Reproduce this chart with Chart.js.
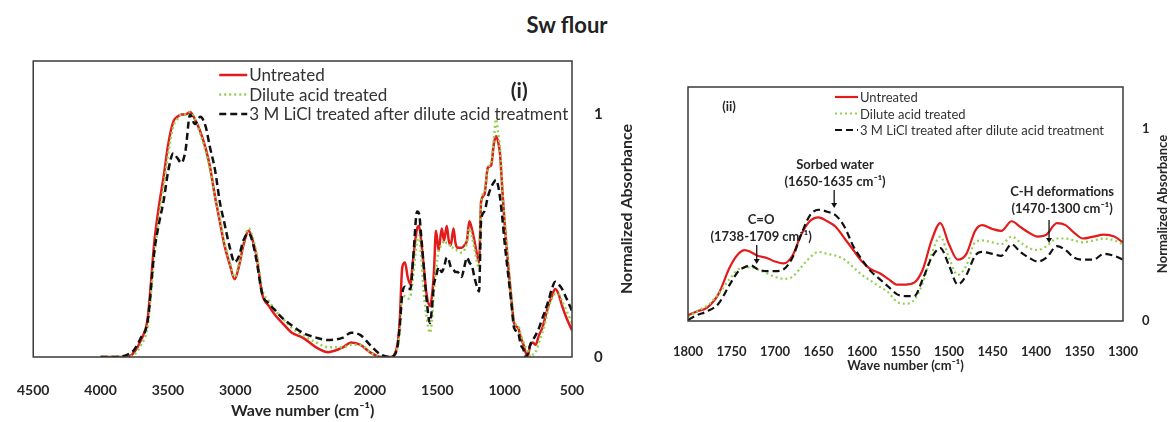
<!DOCTYPE html>
<html>
<head>
<meta charset="utf-8">
<script src="https://cdn.jsdelivr.net/npm/chart.js@4.4.1/dist/chart.umd.min.js"></script>
<style>
    html, body { margin: 0; padding: 0; background: #fff; }
    body { width: 1174px; height: 422px; position: relative; overflow: hidden; font-family: Lato, "DejaVu Sans", sans-serif; }
    #title { position: absolute; left: 0; top: 11px; width: 1134px; text-align: center; font-weight: bold; font-size: 22px; color: #222; }
    #chartI { position: absolute; left: 0; top: 0; }
    #chartII { position: absolute; left: 650px; top: 0; }
</style>
</head>
<body>
<div id="title">Sw flour</div>
<canvas id="chartI" width="650" height="422"></canvas>
<canvas id="chartII" width="524" height="422"></canvas>
<script>
"use strict";

const seriesNames = ['Untreated', 'Dilute acid treated', '3 M LiCl treated after dilute acid treatment'];
const yTickValues = [0, 1];

// panel (i): whole spectrum, wave numbers in cm-1
const waveI = [
    4000, 3900, 3800, 3750, 3700, 3650, 3600, 3570, 3530, 3500,
    3460, 3430, 3400, 3370, 3335, 3300, 3260, 3220, 3190, 3150,
    3115, 3080, 3040, 3005, 2970, 2940, 2900, 2870, 2840, 2800,
    2750, 2700, 2650, 2580, 2500, 2400, 2310, 2200, 2140, 2070,
    2000, 1920, 1850, 1800, 1780, 1760, 1740, 1720, 1700, 1680,
    1650, 1635, 1620, 1600, 1580, 1555, 1540, 1525, 1510, 1490,
    1467, 1450, 1430, 1415, 1400, 1380, 1365, 1350, 1320, 1300,
    1280, 1262, 1240, 1225, 1200, 1190, 1175, 1150, 1125, 1100,
    1080, 1064, 1050, 1035, 1015, 1000, 976, 950, 930, 900,
    880, 860, 845, 830, 810, 790, 770, 745, 720, 700,
    676, 650, 625, 600, 573, 540, 500
];
const untreatedI = [
    0.00, 0.00, 0.00, 0.02, 0.07, 0.16, 0.48, 0.61, 0.75, 0.87,
    0.97, 0.99, 1.00, 1.00, 1.01, 0.98, 0.93, 0.86, 0.79, 0.66,
    0.56, 0.46, 0.38, 0.32, 0.38, 0.46, 0.52, 0.48, 0.41, 0.26,
    0.21, 0.17, 0.14, 0.10, 0.08, 0.04, 0.02, 0.04, 0.06, 0.05,
    0.02, 0.00, 0.00, 0.04, 0.14, 0.37, 0.39, 0.33, 0.30, 0.40,
    0.53, 0.54, 0.48, 0.37, 0.26, 0.21, 0.25, 0.35, 0.52, 0.44,
    0.53, 0.48, 0.54, 0.48, 0.46, 0.53, 0.47, 0.45, 0.45, 0.46,
    0.48, 0.56, 0.52, 0.48, 0.41, 0.39, 0.64, 0.67, 0.78, 0.79,
    0.88, 0.91, 0.89, 0.84, 0.67, 0.55, 0.39, 0.24, 0.14, 0.12,
    0.08, 0.05, 0.02, 0.00, 0.05, 0.06, 0.05, 0.09, 0.12, 0.16,
    0.21, 0.25, 0.28, 0.26, 0.21, 0.16, 0.11
];
const diluteI = [
    0.00, 0.00, 0.00, 0.01, 0.05, 0.13, 0.42, 0.56, 0.71, 0.83,
    0.95, 0.98, 1.00, 1.00, 1.01, 0.98, 0.92, 0.85, 0.78, 0.66,
    0.57, 0.47, 0.39, 0.33, 0.39, 0.47, 0.53, 0.49, 0.42, 0.28,
    0.23, 0.19, 0.16, 0.12, 0.09, 0.06, 0.04, 0.04, 0.05, 0.05,
    0.02, 0.00, 0.00, 0.03, 0.10, 0.25, 0.25, 0.24, 0.25, 0.33,
    0.48, 0.50, 0.42, 0.26, 0.17, 0.10, 0.15, 0.28, 0.36, 0.44,
    0.46, 0.48, 0.47, 0.47, 0.45, 0.45, 0.44, 0.44, 0.43, 0.44,
    0.47, 0.53, 0.49, 0.45, 0.38, 0.37, 0.64, 0.68, 0.78, 0.80,
    0.90, 0.98, 0.93, 0.86, 0.68, 0.56, 0.40, 0.25, 0.14, 0.13,
    0.09, 0.06, 0.04, 0.03, 0.00, 0.01, 0.02, 0.06, 0.10, 0.14,
    0.20, 0.24, 0.26, 0.26, 0.23, 0.19, 0.14
];
const liclI = [
    0.00, 0.00, 0.01, 0.03, 0.08, 0.15, 0.44, 0.54, 0.65, 0.76,
    0.84, 0.82, 0.80, 0.85, 1.00, 0.96, 0.99, 0.95, 0.87, 0.77,
    0.64, 0.55, 0.45, 0.39, 0.42, 0.48, 0.51, 0.47, 0.39, 0.26,
    0.22, 0.19, 0.16, 0.13, 0.10, 0.08, 0.07, 0.08, 0.10, 0.09,
    0.05, 0.01, 0.00, 0.03, 0.12, 0.26, 0.29, 0.28, 0.28, 0.40,
    0.60, 0.59, 0.50, 0.37, 0.24, 0.14, 0.20, 0.30, 0.33, 0.37,
    0.35, 0.37, 0.41, 0.40, 0.37, 0.36, 0.35, 0.35, 0.33, 0.37,
    0.41, 0.39, 0.37, 0.33, 0.28, 0.27, 0.56, 0.60, 0.66, 0.70,
    0.72, 0.73, 0.71, 0.66, 0.56, 0.47, 0.35, 0.22, 0.12, 0.10,
    0.05, 0.03, 0.00, 0.01, 0.05, 0.07, 0.09, 0.12, 0.16, 0.19,
    0.23, 0.28, 0.31, 0.30, 0.28, 0.24, 0.19
];

// panel (ii): zoom on 1800-1300 cm-1
const waveII = [
    1800, 1790, 1778, 1765, 1752, 1742, 1735, 1728, 1720, 1710,
    1700, 1690, 1680, 1670, 1660, 1650, 1640, 1630, 1620, 1610,
    1600, 1590, 1580, 1570, 1560, 1550, 1540, 1530, 1520, 1510,
    1500, 1490, 1480, 1470, 1462, 1450, 1440, 1428, 1418, 1408,
    1398, 1388, 1376, 1366, 1356, 1346, 1334, 1322, 1310, 1300
];
const untreatedII = [
    0.03, 0.05, 0.07, 0.14, 0.28, 0.35, 0.37, 0.36, 0.34, 0.33,
    0.31, 0.30, 0.34, 0.45, 0.52, 0.54, 0.52, 0.49, 0.43, 0.37,
    0.31, 0.27, 0.25, 0.22, 0.19, 0.19, 0.20, 0.27, 0.42, 0.51,
    0.40, 0.32, 0.35, 0.47, 0.50, 0.48, 0.47, 0.52, 0.49, 0.46,
    0.44, 0.45, 0.51, 0.50, 0.46, 0.43, 0.44, 0.45, 0.44, 0.41
];
const diluteII = [
    0.02, 0.05, 0.08, 0.14, 0.22, 0.27, 0.28, 0.28, 0.27, 0.25,
    0.23, 0.22, 0.23, 0.28, 0.33, 0.36, 0.35, 0.34, 0.32, 0.28,
    0.24, 0.21, 0.18, 0.15, 0.10, 0.09, 0.11, 0.20, 0.35, 0.44,
    0.33, 0.24, 0.29, 0.41, 0.42, 0.41, 0.40, 0.44, 0.41, 0.38,
    0.37, 0.39, 0.43, 0.43, 0.42, 0.41, 0.42, 0.43, 0.42, 0.40
];
const liclII = [
    0.005, 0.03, 0.05, 0.09, 0.19, 0.26, 0.28, 0.29, 0.27, 0.26,
    0.26, 0.27, 0.33, 0.45, 0.55, 0.58, 0.57, 0.55, 0.49, 0.39,
    0.32, 0.26, 0.22, 0.18, 0.14, 0.13, 0.13, 0.22, 0.33, 0.38,
    0.29, 0.19, 0.24, 0.34, 0.36, 0.35, 0.34, 0.40, 0.36, 0.33,
    0.31, 0.33, 0.39, 0.37, 0.33, 0.32, 0.32, 0.35, 0.34, 0.32
];

const FONT = 'Lato, "DejaVu Sans", sans-serif';
const TEXT = '#262626';

function toPoints(xs, ys) {
    return xs.map((x, i) => ({x: x, y: ys[i]}));
}

function makeDatasets(xs, series, width) {
    const styles = [
        {color: '#e31b1b', dash: [], order: 3},
        {color: '#92d050', dash: [2, 3], order: 2},
        {color: '#111111', dash: [7, 4], order: 1}
    ];
    return series.map((ys, i) => ({
        label: seriesNames[i],
        data: toPoints(xs, ys),
        borderColor: styles[i].color,
        borderDash: styles[i].dash,
        borderWidth: width,
        order: styles[i].order,
        pointRadius: 0,
        fill: false,
        cubicInterpolationMode: 'monotone'
    }));
}

// frame, rotated y title, legend, panel tag and arrows
const panelDecor = {
    id: 'panelDecor',
    afterDatasetsDraw(chart, args, opts) {
        const ctx = chart.ctx;
        const area = chart.chartArea;
        const xs = chart.scales.x, ys = chart.scales.y;

        ctx.save();
        ctx.strokeStyle = '#3a3a3a';
        ctx.lineWidth = opts.frameWidth;
        ctx.strokeRect(area.left, area.top, area.width, area.height);

        ctx.save();
        ctx.fillStyle = TEXT;
        ctx.font = opts.yTitleFont;
        ctx.textAlign = 'center';
        ctx.textBaseline = 'middle';
        ctx.translate(opts.yTitleX, (area.top + area.bottom) / 2);
        ctx.rotate(-Math.PI / 2);
        ctx.fillText(opts.yTitle, 0, 0);
        ctx.restore();

        const lg = opts.legend;
        ctx.font = lg.font;
        ctx.textAlign = 'left';
        ctx.textBaseline = 'middle';
        chart.data.datasets.forEach((ds, i) => {
            const x = area.left + lg.left;
            const y = area.top + lg.top + i * lg.gap;
            ctx.save();
            ctx.strokeStyle = ds.borderColor;
            ctx.lineWidth = ds.borderWidth;
            ctx.setLineDash(ds.borderDash);
            ctx.beginPath();
            ctx.moveTo(x, y);
            ctx.lineTo(x + lg.sample, y);
            ctx.stroke();
            ctx.restore();
            ctx.fillStyle = '#333';
            ctx.fillText(ds.label, x + lg.sample + 2, y + 1);
        });

        ctx.font = opts.tagFont;
        ctx.textAlign = 'center';
        ctx.fillStyle = TEXT;
        ctx.fillText(opts.tag, area.left + opts.tagX, area.top + opts.tagY);

        (opts.notes || []).forEach(n => {
            const tx = xs.getPixelForValue(n.textX);
            const ty = ys.getPixelForValue(n.textY);
            ctx.font = opts.noteFont;
            ctx.fillStyle = TEXT;
            n.lines.forEach((t, k) => ctx.fillText(t, tx, ty + k * opts.noteGap));
            const ax = xs.getPixelForValue(n.arrowX);
            const y0 = ys.getPixelForValue(n.from);
            const y1 = ys.getPixelForValue(n.to);
            ctx.strokeStyle = '#111';
            ctx.fillStyle = '#111';
            ctx.lineWidth = 1.3;
            ctx.beginPath();
            ctx.moveTo(ax, y0);
            ctx.lineTo(ax, y1 - 4);
            ctx.stroke();
            ctx.beginPath();
            ctx.moveTo(ax - 3, y1 - 5);
            ctx.lineTo(ax + 3, y1 - 5);
            ctx.lineTo(ax, y1);
            ctx.closePath();
            ctx.fill();
        });
        ctx.restore();
    }
};

function makeOptions(p) {
    return {
        responsive: false,
        animation: false,
        layout: {padding: {left: p.padLeft, top: p.padTop, right: 0, bottom: 0}},
        plugins: {
            legend: {display: false},
            tooltip: {enabled: false},
            panelDecor: p.decor
        },
        scales: {
            x: {
                type: 'linear',
                reverse: true,
                min: p.xMin,
                max: p.xMax,
                grid: {display: false},
                border: {display: false},
                afterFit: (s) => { s.height = p.xHeight; },
                ticks: {
                    stepSize: p.xStep,
                    autoSkip: false,
                    maxRotation: 0,
                    padding: p.xTickPad,
                    color: TEXT,
                    font: {family: FONT, size: p.xTickSize, weight: 'bold'},
                    callback: (v) => String(v)
                },
                title: {
                    display: true,
                    text: 'Wave number (cm⁻¹)',
                    color: TEXT,
                    font: {family: FONT, size: p.xTitleSize, weight: 'bold'},
                    padding: {top: 0, bottom: p.xTitlePad}
                }
            },
            y: {
                position: 'right',
                min: 0,
                max: 1.22,
                grid: {display: false},
                border: {display: false},
                afterFit: (s) => { s.width = p.yWidth; },
                afterBuildTicks: (s) => { s.ticks = yTickValues.map(v => ({value: v})); },
                ticks: {
                    padding: p.yTickPad,
                    color: TEXT,
                    font: {family: FONT, size: p.yTickSize, weight: 'bold'},
                    callback: (v) => String(v)
                }
            }
        }
    };
}

new Chart(document.getElementById('chartI'), {
    type: 'line',
    data: {datasets: makeDatasets(waveI, [untreatedI, diluteI, liclI], 2.5)},
    plugins: [panelDecor],
    options: makeOptions({
        padLeft: 26, padTop: 61,
        xMin: 500, xMax: 4500, xStep: 500,
        xHeight: 65, xTickPad: 17, xTickSize: 14, xTitleSize: 16, xTitlePad: 2,
        yWidth: 78, yTickPad: 14, yTickSize: 15,
        decor: {
            frameWidth: 1.5,
            yTitle: 'Normalized Absorbance', yTitleX: 627, yTitleFont: 'bold 16px ' + FONT,
            legend: {left: 186, top: 14, gap: 19.5, sample: 28, font: '17px ' + FONT},
            tag: '(i)', tagX: 486, tagY: 30, tagFont: 'bold 21px ' + FONT
        }
    })
});

new Chart(document.getElementById('chartII'), {
    type: 'line',
    data: {datasets: makeDatasets(waveII, [untreatedII, diluteII, liclII], 2.2)},
    plugins: [panelDecor],
    options: makeOptions({
        padLeft: 38, padTop: 87,
        xMin: 1300, xMax: 1800, xStep: 50,
        xHeight: 101, xTickPad: 15, xTickSize: 13, xTitleSize: 13, xTitlePad: 48,
        yWidth: 51, yTickPad: 11, yTickSize: 13,
        decor: {
            frameWidth: 1.5,
            yTitle: 'Normalized Absorbance', yTitleX: 513, yTitleFont: 'bold 13px ' + FONT,
            legend: {left: 147, top: 10, gap: 16.5, sample: 23, font: '13px ' + FONT},
            tag: '(ii)', tagX: 41, tagY: 20, tagFont: 'bold 13px ' + FONT,
            noteFont: 'bold 13px ' + FONT, noteGap: 17,
            notes: [
                {lines: ['Sorbed water', '(1650-1635 cm⁻¹)'], textX: 1631, textY: 0.813, arrowX: 1632, from: 0.683, to: 0.589},
                {lines: ['C=O', '(1738-1709 cm⁻¹)'], textX: 1716, textY: 0.527, arrowX: 1721, from: 0.396, to: 0.297},
                {lines: ['C-H deformations', '(1470-1300 cm⁻¹)'], textX: 1370, textY: 0.673, arrowX: 1385, from: 0.527, to: 0.407}
            ]
        }
    })
});
</script>
</body>
</html>
